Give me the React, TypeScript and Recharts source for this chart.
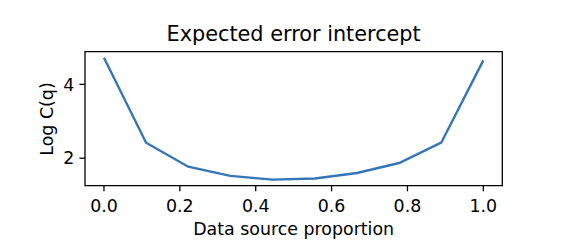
import { LineChart, Line, XAxis, YAxis, ReferenceArea } from 'recharts';

const proportions = [0, 0.111, 0.222, 0.333, 0.444, 0.556, 0.667, 0.778, 0.889, 1.0];
const logC = [4.72, 2.42, 1.77, 1.52, 1.42, 1.45, 1.6, 1.87, 2.42, 4.65];
const xTicks = [0, 0.2, 0.4, 0.6, 0.8, 1.0];
const yTicks = [2, 4];

const data = proportions.map((p, i) => ({ p, c: logC[i] }));

const FONT = '"DejaVu Sans", sans-serif';
const X_DOMAIN: [number, number] = [-0.05, 1.05];
const Y_DOMAIN: [number, number] = [1.255, 4.885];

export default function App() {
  return (
    <div
      style={{
        position: 'absolute',
        left: 0,
        top: 0,
        width: 582,
        height: 249,
        background: '#fff',
        fontFamily: FONT,
        color: '#000',
      }}
    >
      <LineChart
        width={582}
        height={249}
        data={data}
        margin={{ top: 51.7, right: 79.7, bottom: 33.3, left: 45 }}
      >
        <XAxis
          dataKey="p"
          type="number"
          domain={X_DOMAIN}
          ticks={xTicks}
          tickFormatter={(v: number) => v.toFixed(1)}
          height={30}
          tickSize={5.6}
          tickMargin={8.5}
          axisLine={false}
          tickLine={{ stroke: '#000', strokeWidth: 1.3 }}
          tick={{ fontSize: 17.4, fill: '#000', fontFamily: FONT }}
          allowDataOverflow
        />
        <YAxis
          type="number"
          domain={Y_DOMAIN}
          ticks={yTicks}
          width={40}
          tickSize={5.6}
          tickMargin={5}
          axisLine={false}
          tickLine={{ stroke: '#000', strokeWidth: 1.3 }}
          tick={{ fontSize: 17.4, fill: '#000', fontFamily: FONT }}
          allowDataOverflow
        />
        <ReferenceArea
          x1={X_DOMAIN[0]}
          x2={X_DOMAIN[1]}
          y1={Y_DOMAIN[0]}
          y2={Y_DOMAIN[1]}
          fill="none"
          stroke="#000"
          strokeWidth={1.3}
          fillOpacity={0}
        />
        <Line
          type="linear"
          dataKey="c"
          stroke="#3477b8"
          strokeWidth={2.4}
          dot={false}
          isAnimationActive={false}
        />
      </LineChart>
      <div
        style={{
          position: 'absolute',
          left: 85,
          width: 417.3,
          top: 21.5,
          textAlign: 'center',
          fontSize: 20.8,
          lineHeight: '24px',
          whiteSpace: 'nowrap',
        }}
      >
        Expected error intercept
      </div>
      <div
        style={{
          position: 'absolute',
          left: 85,
          width: 417.3,
          top: 219,
          textAlign: 'center',
          fontSize: 17.4,
          lineHeight: '21px',
          whiteSpace: 'nowrap',
        }}
      >
        Data source proportion
      </div>
      <div
        style={{
          position: 'absolute',
          left: 46.7,
          top: 118.7,
          transform: 'translate(-50%, -50%) rotate(-90deg)',
          fontSize: 17.4,
          lineHeight: '21px',
          whiteSpace: 'nowrap',
        }}
      >
        Log C(q)
      </div>
    </div>
  );
}
